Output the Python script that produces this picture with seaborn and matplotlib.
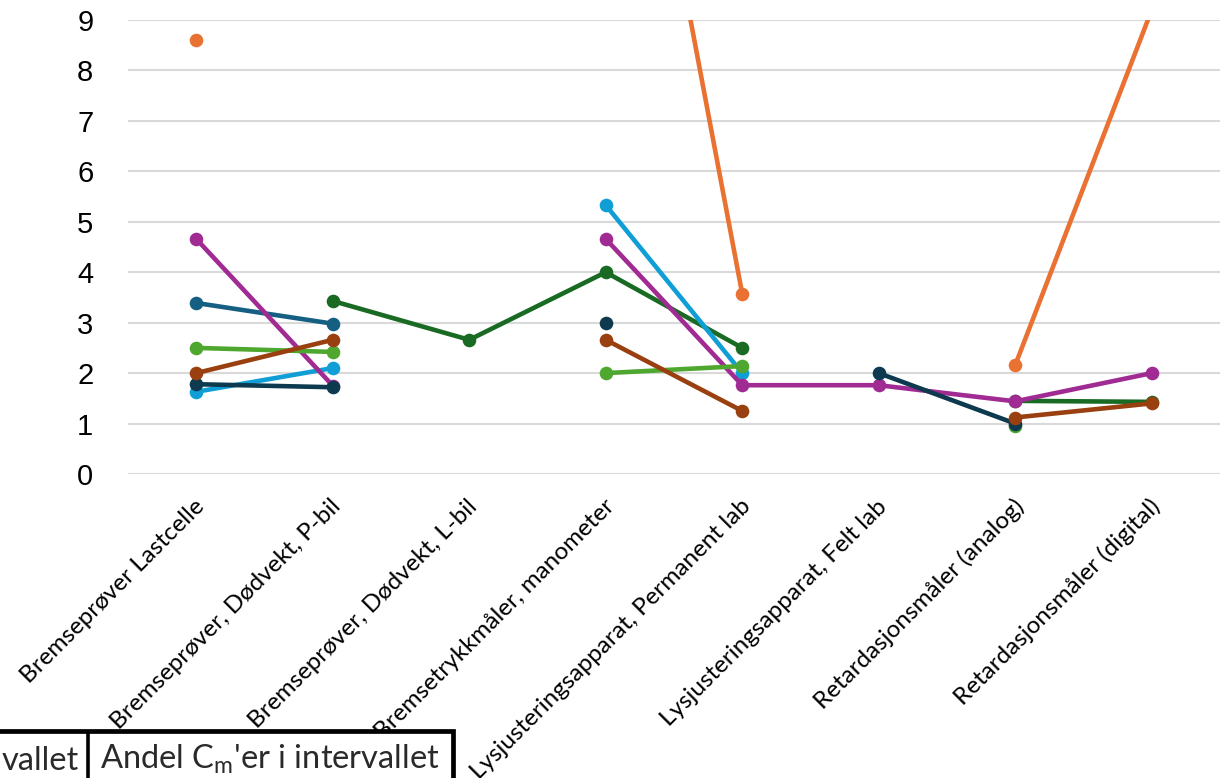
import numpy as np
import pandas as pd
import matplotlib
matplotlib.use("Agg")
import matplotlib.pyplot as plt
from matplotlib.patches import Rectangle
from matplotlib.transforms import ScaledTranslation
import seaborn as sns

# Categories along the x axis
categories = [
    "Bremseprøver Lastcelle",
    "Bremseprøver, Dødvekt, P-bil",
    "Bremseprøver, Dødvekt, L-bil",
    "Bremsetrykkmåler, manometer",
    "Lysjusteringsapparat, Permanent lab",
    "Lysjusteringsapparat, Felt lab",
    "Retardasjonsmåler (analog)",
    "Retardasjonsmåler (digital)",
]

nan = np.nan
# One list per series (missing values break the line)
serie_1 = [3.39, 2.98, nan, nan, nan, nan, nan, nan]
serie_2 = [8.6, nan, nan, 17.9, 3.57, nan, 2.16, 9.2]
serie_3 = [nan, 3.43, 2.66, 4.0, 2.5, nan, 1.45, 1.43]
serie_4 = [1.63, 2.1, nan, 5.33, 2.0, nan, nan, nan]
serie_5 = [4.66, 1.75, nan, 4.66, 1.76, 1.76, 1.44, 2.0]
serie_6 = [2.5, 2.42, nan, 2.0, 2.14, nan, 0.96, nan]
serie_7 = [1.78, 1.72, nan, 3.0, nan, 2.0, 1.0, nan]
serie_8 = [2.0, 2.66, nan, 2.66, 1.25, nan, 1.12, 1.4]

series_names = ["Serie 1", "Serie 2", "Serie 3", "Serie 4",
                "Serie 5", "Serie 6", "Serie 7", "Serie 8"]
series_values = [serie_1, serie_2, serie_3, serie_4,
                 serie_5, serie_6, serie_7, serie_8]
colors = ["#156082", "#E97132", "#196B24", "#0F9ED5",
          "#A02B93", "#4EA72E", "#0D3A4E", "#9A4010"]

# Long table; each contiguous run of values gets its own unit id
rows = []
for name, vals in zip(series_names, series_values):
    seg = 0
    prev_nan = True
    for i, v in enumerate(vals):
        if np.isnan(v):
            prev_nan = True
            continue
        if prev_nan:
            seg += 1
        prev_nan = False
        rows.append({"serie": name, "pos": i, "verdi": v,
                     "segment": f"{name}-{seg}"})
df = pd.DataFrame(rows)

sns.set_theme(style="white")
plt.rcParams["font.family"] = ["Liberation Sans", "DejaVu Sans"]

W, H = 1228, 778
fig = plt.figure(figsize=(W / 100, H / 100), dpi=100)
ax = fig.add_axes([128 / W, 1 - 474 / H, (1220 - 128) / W, (474 - 20) / H])

sns.lineplot(
    data=df, x="pos", y="verdi", hue="serie", units="segment",
    estimator=None, hue_order=series_names, palette=colors,
    marker="o", markersize=9.8, markeredgewidth=0, linewidth=3.3,
    legend=False, ax=ax, sort=True,
)

ax.set_xlim(-0.5, len(categories) - 0.5)
ax.set_ylim(0, 9)
ax.set_yticks(range(0, 10))
ax.yaxis.grid(True, color="#D9D9D9", linewidth=1.5)
ax.xaxis.grid(False)
ax.set_axisbelow(True)
for s in ax.spines.values():
    s.set_visible(False)
ax.tick_params(axis="y", length=0, pad=25, labelsize=21, labelcolor="#000000")
ax.tick_params(axis="x", length=0, pad=21)
ax.set_xticks(range(len(categories)))
ax.set_xticklabels(categories, rotation=45, ha="right", va="center",
                   rotation_mode="anchor", fontsize=17.5,
                   family=["Lato", "DejaVu Sans"], color="#000000")
shift = ScaledTranslation(5 / 100, 0, fig.dpi_scale_trans)
for lab in ax.get_xticklabels():
    lab.set_transform(lab.get_transform() + shift)
ax.set_xlabel("")
ax.set_ylabel("")

# Table header strip at the bottom edge
box = Rectangle((-10 / W, -0.1), (453 + 10) / W, 0.1 + (778 - 731) / H,
                transform=fig.transFigure, fill=True, facecolor="white",
                edgecolor="#000000", linewidth=3.4, clip_on=False)
fig.patches.append(box)
fig.add_artist(plt.Line2D([88 / W, 88 / W], [0, (778 - 733) / H],
                          transform=fig.transFigure, color="#000000", linewidth=2.6))
fig.text(79 / W, 2 / H, "vallet", ha="right", va="bottom", fontsize=23.5,
         family=["Lato", "DejaVu Sans"], color="#2a2a2a")
fig.text(100 / W, 2 / H, r"Andel C$_\mathregular{m}$'er i intervallet", ha="left",
         va="bottom", fontsize=23.5, family=["Lato", "DejaVu Sans"], color="#2a2a2a")

fig.savefig("out.png", dpi=100)
